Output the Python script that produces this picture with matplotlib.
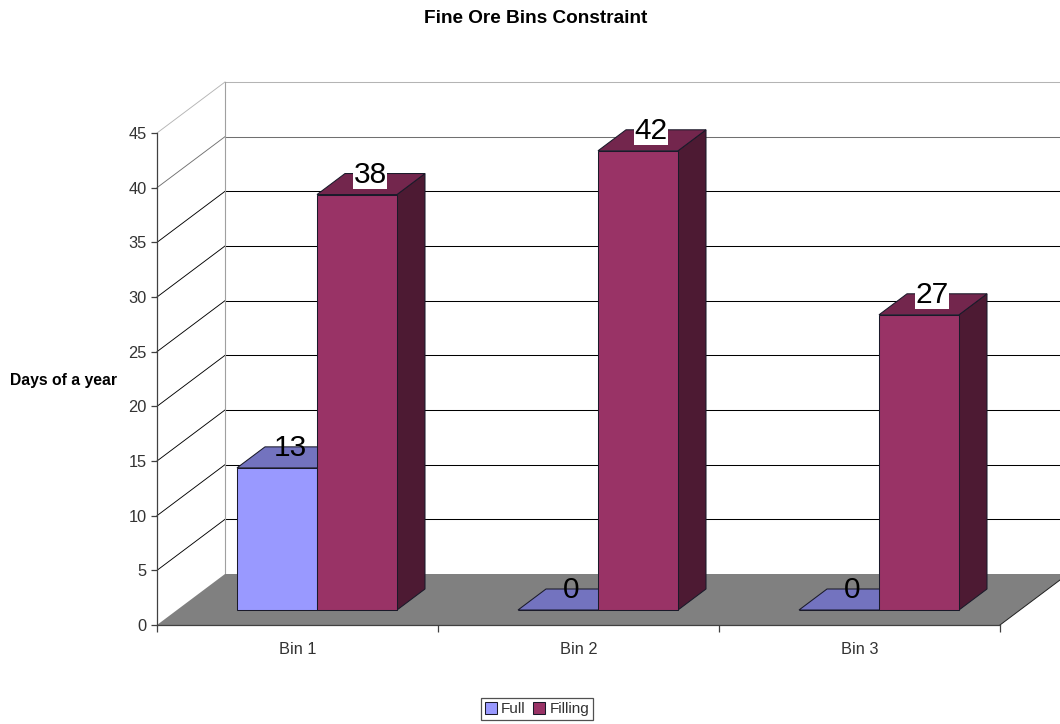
import matplotlib
matplotlib.use("Agg")
import matplotlib.pyplot as plt
from matplotlib.patches import Polygon

plt.rcParams["font.family"] = ["Liberation Sans", "DejaVu Sans"]

bins = ["Bin 1", "Bin 2", "Bin 3"]
full = [13, 0, 0]
filling = [38, 42, 27]
y_ticks = [0, 5, 10, 15, 20, 25, 30, 35, 40, 45]

# pixel sizes of the fake 3d box, turned into data units below
W, H = 1060, 724
px_x = 1 / 281.0
px_y = 45 / 492.0
depth_x = 68 * px_x
depth_y = 51 * px_y
bar_dx = 28 * px_x
bar_dy = 21 * px_y
bar_w = 80 * px_x
off_x = 20 * px_x
off_y = 15 * px_y

fig = plt.figure(figsize=(W / 100, H / 100), dpi=100)
ax = fig.add_axes([157 / W, (H - 625) / H, 843 / W, 492 / H])
ax.set_xlim(0, 3)
ax.set_ylim(0, 45)

# walls and grid
for v in y_ticks[1:]:
    c = "#b4b4b4" if v == 45 else "#707070" if v == 40 else "black"
    ax.plot([0, depth_x], [v, v + depth_y], color=c, lw=0.65, clip_on=False, zorder=1)
    ax.plot([depth_x, 3 + depth_x], [v + depth_y, v + depth_y], color=c, lw=0.75, clip_on=False, zorder=1)
ax.plot([depth_x, depth_x], [depth_y, 45 + depth_y], color="#a0a0a0", lw=0.8, clip_on=False, zorder=1.5)

# floor
ax.add_patch(Polygon([(0, 0), (3, 0), (3 + depth_x, depth_y), (depth_x, depth_y)],
                     facecolor="#808080", edgecolor="none", clip_on=False, zorder=2))
ax.plot([3, 3 + depth_x], [0, depth_y], color="#202020", lw=0.7, clip_on=False, zorder=2.1)


def draw_series(values, x0, front, top, side, label):
    xs = [i + x0 for i in range(len(values))]
    bars = ax.bar(xs, values, width=bar_w, bottom=off_y, align="edge", color=front,
                  edgecolor="#1a1a2a", linewidth=0.75, clip_on=False, zorder=4, label=label)
    for x, v in zip(xs, values):
        t = v + off_y
        ax.add_patch(Polygon([(x, t), (x + bar_w, t), (x + bar_w + bar_dx, t + bar_dy), (x + bar_dx, t + bar_dy)],
                             facecolor=top, edgecolor="#1a1a2a", lw=0.75, clip_on=False, zorder=4))
        if v > 0:
            ax.add_patch(Polygon([(x + bar_w, off_y), (x + bar_w + bar_dx, off_y + bar_dy),
                                  (x + bar_w + bar_dx, t + bar_dy), (x + bar_w, t)],
                                 facecolor=side, edgecolor="#1a1a2a", lw=0.75, clip_on=False, zorder=3.5))
    return bars, xs


full_bars, full_x = draw_series(full, 60 * px_x + off_x, "#9999ff", "#7373bf", "#4d4d80", "Full")
fill_bars, fill_x = draw_series(filling, 60 * px_x + off_x + bar_w, "#993366", "#73264d", "#4d1a33", "Filling")

# data labels
label_dy = bar_dy - 1.5 * px_y
for x, v in zip(full_x, full):
    ax.text(x + bar_w / 2 + 13 * px_x, v + off_y + label_dy, str(v), fontsize=21.5, color="black",
            ha="center", va="center", zorder=6, clip_on=False)
for x, v in zip(fill_x, filling):
    ax.text(x + bar_w / 2 + 13 * px_x, v + off_y + label_dy, str(v), fontsize=21.5, color="black",
            ha="center", va="center", zorder=6, clip_on=False,
            bbox=dict(facecolor="white", edgecolor="none", pad=0))

# axes
for s in ["top", "right"]:
    ax.spines[s].set_visible(False)
for s in ["left", "bottom"]:
    ax.spines[s].set_color("#404040")
    ax.spines[s].set_linewidth(0.9)
    ax.spines[s].set_zorder(3)
ax.set_yticks(y_ticks)
ax.set_xticks([0, 1, 2, 3])
ax.set_xticklabels([])
ax.set_xticks([0.5, 1.5, 2.5], labels=bins, minor=True)
ax.tick_params(axis="y", length=4.5, width=0.9, color="#404040", labelsize=11.8, labelcolor="#333333", pad=3)
ax.tick_params(axis="x", which="major", length=5, width=0.9, color="#404040")
ax.tick_params(axis="x", which="minor", length=0, labelsize=11.8, labelcolor="#333333", pad=12)

fig.text(536 / W, 1 - 18.5 / H, "Fine Ore Bins Constraint", fontsize=13.7, fontweight="bold",
         ha="center", va="center")
fig.text(10 / W, 1 - 381 / H, "Days of a year", fontsize=11.3, fontweight="bold", ha="left", va="center")

leg = fig.legend([full_bars, fill_bars], ["Full", "Filling"], ncol=2, loc="center",
                 bbox_to_anchor=(537 / W, 1 - 709 / H), fontsize=11, fancybox=False,
                 edgecolor="#505050", framealpha=1, handlelength=0.8, handleheight=0.8,
                 handletextpad=0.25, columnspacing=0.5, borderpad=0.25, labelcolor="#333333")
leg.get_frame().set_linewidth(0.9)

fig.savefig("out.png", dpi=100)
